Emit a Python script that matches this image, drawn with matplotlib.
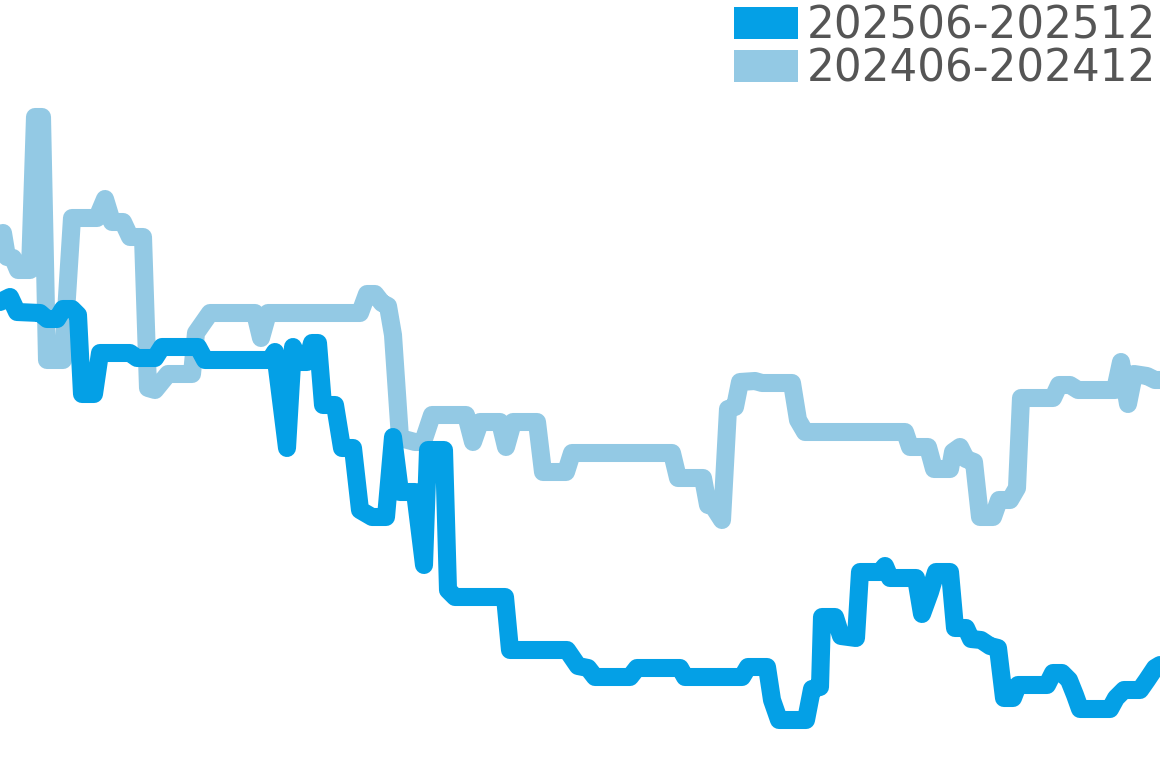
import matplotlib
matplotlib.use('Agg')
from matplotlib import pyplot as plt
from matplotlib.patches import Patch

# ranking series (t = day position, rank = lower is better)
labels = ['202506-202512', '202406-202412']
colors = ['#04a0e6', '#93c9e4']

t_2025 = [0, 10, 17, 40, 47, 57, 63, 72, 78, 82, 94, 100, 130, 137, 155, 162, 198, 205, 270, 275,
          287, 293, 300, 307, 312, 318, 323, 335, 342, 353, 360, 372, 386, 393, 400, 415, 424, 428,
          444, 448, 455, 505, 510, 567, 578, 588, 595, 630, 637, 680, 685, 742, 748, 767, 772, 779,
          806, 812, 820, 822, 835, 841, 856, 860, 880, 885, 890, 916, 922, 930, 936, 950, 955, 966,
          971, 981, 990, 998, 1004, 1013, 1018, 1047, 1053, 1062, 1069, 1075, 1080, 1110, 1116,
          1124, 1140, 1147, 1155, 1160]
rank_2025 = [302, 297, 312, 313, 319, 319, 309, 309, 315, 394, 394, 353, 353, 358, 358, 347, 347, 360,
             360, 352, 448, 347, 362, 362, 343, 343, 405, 405, 448, 448, 510, 517, 517, 437, 492, 492,
             565, 450, 450, 590, 597, 597, 650, 650, 666, 668, 677, 677, 668, 668, 677, 677, 667, 667,
             700, 720, 720, 689, 687, 617, 617, 636, 638, 572, 572, 566, 578, 578, 614, 592, 572, 572,
             628, 628, 639, 640, 646, 648, 698, 698, 685, 685, 673, 673, 680, 695, 709, 709, 698, 690,
             690, 680, 668, 665]

t_2024 = [0, 3, 7, 13, 18, 30, 35, 42, 47, 63, 72, 97, 105, 112, 123, 130, 143, 148, 155, 168, 192,
          196, 210, 255, 261, 268, 360, 367, 375, 382, 388, 393, 400, 415, 423, 432, 466, 473, 480,
          500, 506, 513, 537, 543, 566, 572, 672, 678, 703, 708, 713, 722, 728, 735, 740, 755, 762,
          792, 798, 805, 905, 910, 928, 934, 950, 953, 960, 966, 974, 980, 993, 999, 1010, 1017,
          1021, 1053, 1059, 1070, 1078, 1115, 1121, 1128, 1134, 1147, 1155, 1160]
rank_2024 = [235, 233, 257, 258, 270, 270, 117, 117, 360, 360, 218, 218, 199, 222, 222, 237, 237, 388,
             390, 374, 374, 333, 313, 313, 338, 313, 313, 294, 294, 303, 306, 335, 438, 442, 442, 415,
             415, 442, 422, 422, 447, 422, 422, 472, 472, 453, 453, 478, 478, 505, 506, 520, 409, 407,
             382, 381, 383, 383, 420, 432, 432, 447, 447, 469, 469, 452, 447, 459, 462, 517, 517, 500,
             500, 488, 398, 398, 385, 385, 390, 390, 362, 404, 374, 376, 380, 380]

fig = plt.figure(figsize=(11.6, 7.68), dpi=100)
ax = fig.add_axes([0, 0, 1, 1])

ax.plot(t_2024, rank_2024, color=colors[1], lw=13, solid_joinstyle='round', solid_capstyle='round')
ax.plot(t_2025, rank_2025, color=colors[0], lw=13, solid_joinstyle='round', solid_capstyle='round')

ax.set_xlim(0, 1160)
ax.set_ylim(768, 0)
ax.axis('off')

handles = [Patch(facecolor=colors[0]), Patch(facecolor=colors[1])]
leg = ax.legend(handles, labels, loc='upper right', bbox_to_anchor=(1.0, 1.0), frameon=False,
                fontsize=31.4, handlelength=1.47, handleheight=0.74, handletextpad=0.18,
                labelspacing=0.0, borderaxespad=0, borderpad=0.1)
for txt in leg.get_texts():
    txt.set_color('#555555')

plt.savefig('out.png', dpi=100)
